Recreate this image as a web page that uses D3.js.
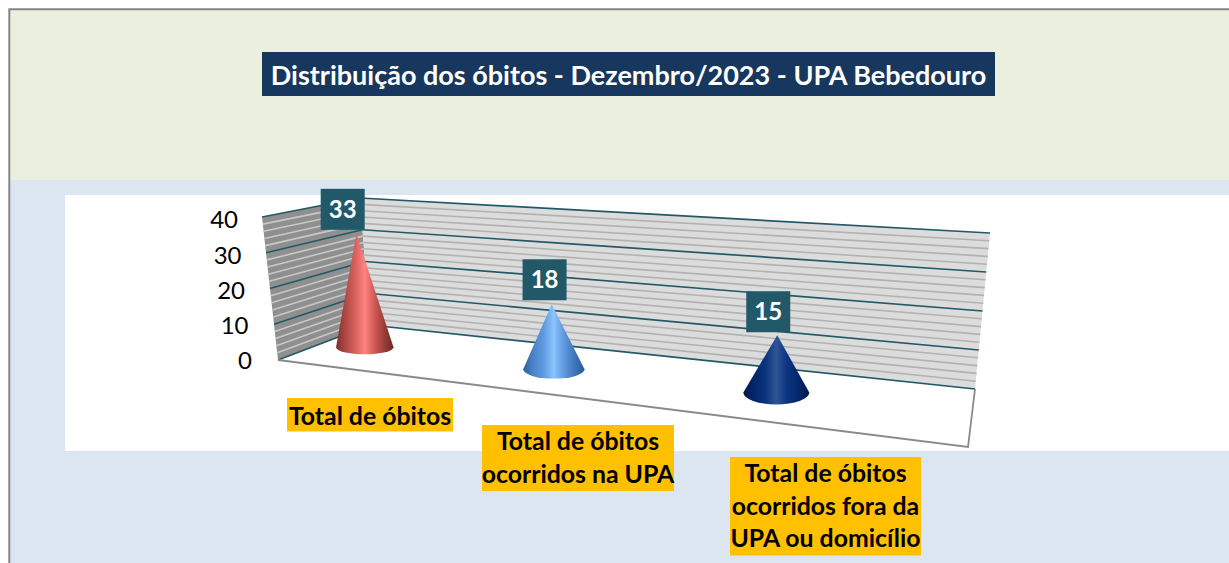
<!DOCTYPE html>
<html><head><meta charset="utf-8">
<script src="https://cdn.jsdelivr.net/npm/d3@7"></script>
<style>html,body{margin:0;padding:0;background:#fff;overflow:hidden}svg{display:block}</style>
</head><body><div id="c"></div>
<script>
const titleText = "Distribuição dos óbitos - Dezembro/2023 - UPA Bebedouro";
const categories = ["Total de óbitos", "Total de óbitos ocorridos na UPA", "Total de óbitos ocorridos fora da UPA ou domicílio"];
const categoryLines = [["Total de óbitos"], ["Total de óbitos", "ocorridos na UPA"], ["Total de óbitos", "ocorridos fora da", "UPA ou domicílio"]];
const values = [33, 18, 15];
const yTicks = [0, 10, 20, 30, 40];
const minorTicks = [2,4,6,8,12,14,16,18,22,24,26,28,32,34,36,38];
const coneColors = [
  ["#7a2f2c","#b04a46","#d9605c","#ff8480","#cf5a56","#9c3e3a","#6b2926"],
  ["#2c5f9e","#4a84c9","#5f9ae0","#8cc4ff","#5d97dd","#3f77bb","#2a5a95"],
  ["#021a4a","#04266b","#0b3480","#2f5597","#0b3480","#04266b","#021a4a"]
];
const font = "Lato, Carlito, Calibri, sans-serif";
const W = 1229, H = 563;
const svg = d3.select("#c").append("svg").attr("width", W).attr("height", H);
const defs = svg.append("defs");

// panels
svg.append("rect").attr("x",10).attr("y",10).attr("width",W-10).attr("height",170).attr("fill","#EBF0DE");
svg.append("rect").attr("x",10).attr("y",180).attr("width",W-10).attr("height",H-180).attr("fill","#DCE6F1");
svg.append("rect").attr("x",65).attr("y",195).attr("width",W-65).attr("height",256).attr("fill","#fff");
svg.append("path").attr("d",`M9.3,${H}V9.3H${W}`).attr("fill","none").attr("stroke","#868686").attr("stroke-width",2);

// projected box of the 3D plot
const BL0=[370,325], BR0=[975,389], FL0=[278,360], FR0=[968,447];
const BL1=[360,198], BR1=[990,233], FL1=[262,217];
const lerp=(a,b,t)=>[a[0]+(b[0]-a[0])*t,a[1]+(b[1]-a[1])*t];
const yT = d3.scaleLinear().domain([0,40]).range([0,1]);
const backL = v=>lerp(BL0,BL1,yT(v)), backR = v=>lerp(BR0,BR1,yT(v)), sideF = v=>lerp(FL0,FL1,yT(v));
const line = d3.line();

svg.append("path").attr("d",line([FL0,BL0,BL1,FL1])+"Z").attr("fill","#8f8f8f");
svg.append("path").attr("d",line([BL0,BR0,BR1,BL1])+"Z").attr("fill","#dcdcdc");
svg.append("path").attr("d",line([FL0,BL0,BR0,FR0])+"Z").attr("fill","#fff");

svg.selectAll(".minorS").data(minorTicks).join("path")
  .attr("d",v=>line([sideF(v),backL(v)])).attr("stroke","#c8c8c8").attr("stroke-width",1.6).attr("fill","none");
svg.selectAll(".minorB").data(minorTicks).join("path")
  .attr("d",v=>line([backL(v),backR(v)])).attr("stroke","#b2b2b2").attr("stroke-width",1.6).attr("fill","none");
svg.selectAll(".majorS").data(yTicks).join("path")
  .attr("d",v=>line([sideF(v),backL(v)])).attr("stroke","#215968").attr("stroke-width",1.7).attr("fill","none");
svg.selectAll(".majorB").data(yTicks).join("path")
  .attr("d",v=>line([backL(v),backR(v)])).attr("stroke","#215968").attr("stroke-width",1.7).attr("fill","none");
svg.append("path").attr("d",line([FL0,FR0,BR0])).attr("fill","none").attr("stroke","#8a8a8a").attr("stroke-width",1.8);

// y labels follow the slanted front edge
const yLabel = d3.scaleLinear().domain([0,40]).range([361,220]);
const yLabelX = d3.scaleLinear().domain([0,40]).range([252,238]);
svg.selectAll(".yl").data(yTicks).join("text")
  .attr("x",v=>yLabelX(v)).attr("y",v=>yLabel(v)).attr("dy","0.35em").attr("text-anchor","end")
  .attr("font-family",font).attr("font-size",24).attr("fill","#000").text(v=>v);

// cones
const xU = d3.scaleLinear().domain([0,1,2]).range([.063,.355,.696]);
const depth = d3.scaleLinear().domain([0,1,2]).range([.5,.5,.45]);
const unitH = d3.scaleLinear().domain([0,1]).range([3.40,4.0]);
const tilt = d3.scaleLinear().domain([0,1]).range([-.083,.06]);
const rX = d3.scaleLinear().domain([0,1]).range([28.3,35]);
const rY = d3.scaleLinear().domain([0,1]).range([6.5,14.4]);
const labelDx = d3.scaleLinear().domain([0,1,2]).range([-13.7,-7.2,-9]);
const labelGap = d3.scaleLinear().domain([0,1,2]).range([4,4,3]);
const floorAt = (u,v)=>lerp(lerp(BL0,FL0,v),lerp(BR0,FR0,v),u);

coneColors.forEach((cs,i)=>{
  const g=defs.append("linearGradient").attr("id","cone"+i);
  cs.forEach((c,j)=>g.append("stop").attr("offset",j/(cs.length-1)).attr("stop-color",c));
});
values.forEach((val,i)=>{
  const u=xU(i), [cx,cy]=floorAt(u,depth(i)), h=val*unitH(u), rx=rX(u), ry=rY(u);
  const ax=cx+tilt(u)*h, ay=cy-h;
  svg.append("path")
    .attr("d",`M${ax},${ay}L${cx+rx},${cy}A${rx},${ry} 0 0 1 ${cx-rx},${cy}Z`)
    .attr("fill",`url(#cone${i})`);
  const lw=44, lh=41, lx=ax+labelDx(i), ly=ay-lh-labelGap(i);
  svg.append("rect").attr("x",lx-lw/2).attr("y",ly).attr("width",lw).attr("height",lh).attr("fill","#215968");
  svg.append("text").attr("x",lx).attr("y",ly+lh/2).attr("dy","0.36em").attr("text-anchor","middle")
    .attr("font-family",font).attr("font-weight",700).attr("font-size",24).attr("fill","#fff").text(val);
});

// category labels
const catX = d3.scaleOrdinal().domain(categories).range([287,482,730]);
const catW = d3.scaleOrdinal().domain(categories).range([166,192,191]);
const catY = d3.scaleOrdinal().domain(categories).range([398,425,457]);
categories.forEach((c,i)=>{
  const ls=categoryLines[i], lh=32.5, x=catX(c), w=catW(c), y=catY(c);
  svg.append("rect").attr("x",x).attr("y",y).attr("width",w).attr("height",ls.length*lh+1).attr("fill","#FFC000");
  ls.forEach((t,j)=>svg.append("text").attr("x",x+w/2).attr("y",y+lh*(j+.5)+(i?0:1.5)).attr("dy","0.36em").attr("text-anchor","middle")
    .attr("font-family",font).attr("font-weight",700).attr("font-size",24.8).attr("fill","#000").text(t));
});

// title
svg.append("rect").attr("x",262).attr("y",52).attr("width",733).attr("height",44).attr("fill","#17375E");
svg.append("text").attr("x",628.5).attr("y",75).attr("dy","0.36em").attr("text-anchor","middle")
  .attr("font-family",font).attr("font-weight",700).attr("font-size",27).attr("fill","#fff").text(titleText);
</script></body></html>
